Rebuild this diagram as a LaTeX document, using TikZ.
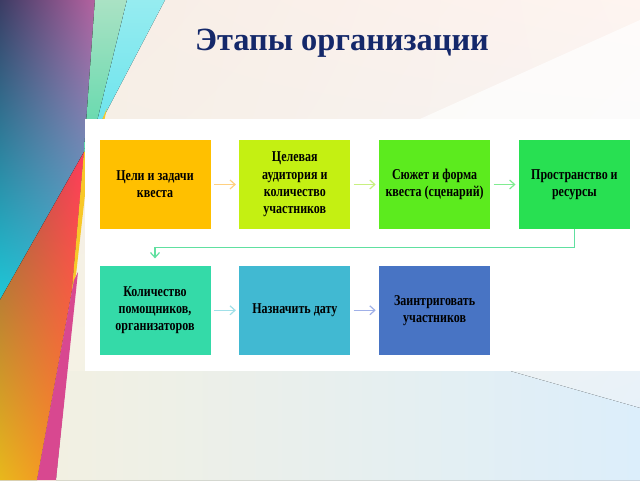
\documentclass[tikz,border=0pt]{standalone}
\usepackage{fontspec}
\setmainfont{Liberation Serif}
\newfontfamily\stagefont[FakeStretch=0.8]{Liberation Serif}
\usetikzlibrary{arrows.meta,positioning,shadings}

\definecolor{titleblue}{HTML}{14286A}
\definecolor{cgoal}{HTML}{FFC000}
\definecolor{caudience}{HTML}{C4F012}
\definecolor{cplot}{HTML}{5CEB1E}
\definecolor{cspace}{HTML}{28E052}
\definecolor{chelpers}{HTML}{34DAA8}
\definecolor{cdate}{HTML}{41B9D2}
\definecolor{cintrigue}{HTML}{4874C4}
% arrows
\definecolor{agoal}{HTML}{FFD080}
\definecolor{aaudience}{HTML}{C8F080}
\definecolor{aplot}{HTML}{80EC90}
\definecolor{aspace}{HTML}{60E0A0}
\definecolor{ahelpers}{HTML}{A0E0E8}
\definecolor{adate}{HTML}{A0B0E8}
% background
\definecolor{bgA}{HTML}{F6ECE4}
\definecolor{bgB}{HTML}{FEF4F0}
\definecolor{bgC}{HTML}{F6F4E2}
\definecolor{bgD}{HTML}{E4F1FB}
\definecolor{bgcream}{HTML}{F2F0E2}
\definecolor{bgblue}{HTML}{DCEEFB}
\definecolor{fanA}{HTML}{3C3C64}
\definecolor{fanB}{HTML}{B462A0}
\definecolor{fanC}{HTML}{1EC8D8}
\definecolor{fanD}{HTML}{40B0D0}
\definecolor{mintA}{HTML}{AAE2C4}
\definecolor{mintB}{HTML}{5AD8AA}
\definecolor{skyA}{HTML}{96ECF0}
\definecolor{skyB}{HTML}{64E2EC}
\definecolor{redA}{HTML}{965046}
\definecolor{redB}{HTML}{FF3C5A}
\definecolor{redC}{HTML}{E8B81C}
\definecolor{redD}{HTML}{FF7A2A}
\definecolor{pinkstripe}{HTML}{D84890}
\definecolor{yellowstripe}{HTML}{F8C828}

\begin{document}
\begin{tikzpicture}[x=0.5pt,y=-0.5pt,
    stagebox/.style={rectangle,minimum width=55.5pt,minimum height=44.5pt,inner sep=1pt,
      align=center,font=\stagefont\bfseries\fontsize{7.5}{8.6}\selectfont},
    flow/.style={-{Straight Barb[length=2.5pt,width=4.5pt]},line width=0.6pt,
      shorten <=1.5pt,shorten >=1.5pt}]
  \useasboundingbox (0,0) rectangle (640,480);
  % background of the slide
  \fill[upper left=bgA,upper right=bgB,lower left=bgC,lower right=bgD] (0,0) rectangle (640,480);
  \fill[white,opacity=0.7] (420,119) -- (640,20) -- (640,119) -- cycle;
  \fill[left color=bgcream,middle color=white,right color=bgblue]
    (67,371) -- (510,371) -- (640,408) -- (640,480) -- (56,480) -- cycle;
  % colour fan on the left
  \fill[upper left=fanA,upper right=fanB,lower left=fanC,lower right=fanD]
    (0,0) -- (95,0) -- (84,152) -- (0,300) -- cycle;
  \fill[top color=mintA,bottom color=mintB] (95,0) -- (127,0) -- (90,150) -- (84,152) -- cycle;
  \fill[top color=skyA,bottom color=skyB] (127,0) -- (165,0) -- (102,120) -- (90,150) -- cycle;
  \fill[yellowstripe] (102,120) -- (107,108) -- (100,140) -- cycle;
  \fill[upper left=redA,upper right=redB,lower left=redC,lower right=redD]
    (84,152) -- (0,300) -- (0,480) -- (37,480) -- (72,290) -- cycle;
  \fill[yellowstripe] (84,152) -- (90,150) -- (76,275) -- (72,290) -- cycle;
  \fill[pinkstripe] (74,280) -- (37,480) -- (56,480) -- (78,272) -- cycle;
  % white panel
  \fill[white] (85,119) rectangle (640,371);

  \node[font=\bfseries\fontsize{16.2}{19}\selectfont,text=titleblue] (title) at (342,43) {Этапы организации};

  \node[stagebox,fill=cgoal] (goals) at (155,184.5) {Цели и задачи\\квеста};
  \node[stagebox,fill=caudience,right=14pt of goals] (audience) {Целевая\\аудитория и\\количество\\участников};
  \node[stagebox,fill=cplot,right=14pt of audience] (plot) {Сюжет и форма\\квеста (сценарий)};
  \node[stagebox,fill=cspace,right=14pt of plot] (space) {Пространство и\\ресурсы};
  \node[stagebox,fill=chelpers,below=18pt of goals] (helpers) {Количество\\помощников,\\организаторов};
  \node[stagebox,fill=cdate,right=14pt of helpers] (date) {Назначить дату};
  \node[stagebox,fill=cintrigue,right=14pt of date] (intrigue) {Заинтриговать\\участников};

  \draw[flow,agoal] (goals) -- (audience);
  \draw[flow,aaudience] (audience) -- (plot);
  \draw[flow,aplot] (plot) -- (space);
  \draw[flow,aspace,shorten <=0pt,shorten >=3.5pt] (space.south) -- ++(0,18) -| (helpers.north);
  \draw[flow,ahelpers] (helpers) -- (date);
  \draw[flow,adate] (date) -- (intrigue);
\end{tikzpicture}
\end{document}
